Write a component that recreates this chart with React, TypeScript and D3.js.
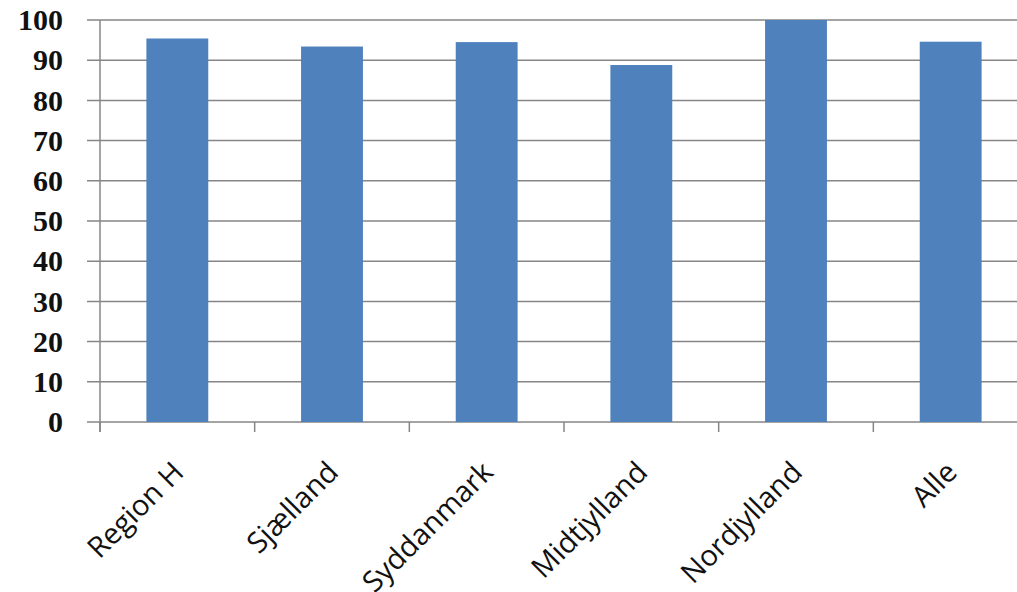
import React from "react";
import * as d3 from "d3";

// Share per region (percent)
const regions = ["Region H", "Sjælland", "Syddanmark", "Midtjylland", "Nordjylland", "Alle"];
const shares = [95.4, 93.4, 94.5, 88.8, 100, 94.6];
const yTicks = [0, 10, 20, 30, 40, 50, 60, 70, 80, 90, 100];

const W = 1017;
const H = 592;
const left = 100;
const right = 1028;
const top = 20;
const bottom = 422;

export default function App() {
  const x = d3.scaleBand<string>().domain(regions).range([left, right]).paddingInner(0.6).paddingOuter(0.3);
  const y = d3.scaleLinear().domain([0, 100]).range([bottom, top]);
  const step = x.step();
  const bounds = d3.range(regions.length + 1).map((i) => left + i * step);
  const axisColor = "#868686";

  return (
    <svg
      width={W}
      height={H}
      style={{ position: "absolute", left: 0, top: 0, background: "#fff" }}
    >
      {/* horizontal grid lines with left tick stubs */}
      {yTicks.map((t) => (
        <line key={"g" + t} x1={87} x2={right} y1={y(t)} y2={y(t)} stroke={axisColor} strokeWidth={1.5} />
      ))}
      {/* value axis */}
      <line x1={left} x2={left} y1={top} y2={bottom + 10} stroke={axisColor} strokeWidth={1.5} />
      {/* category tick marks */}
      {bounds.map((b, i) => (
        <line key={"t" + i} x1={b} x2={b} y1={bottom} y2={bottom + 10} stroke={axisColor} strokeWidth={1.5} />
      ))}
      {/* bars */}
      {regions.map((r, i) => (
        <rect
          key={r}
          x={x(r)}
          y={y(shares[i])}
          width={x.bandwidth()}
          height={y(0) - y(shares[i])}
          fill="#4F81BD"
        />
      ))}
      {/* value labels */}
      {yTicks.map((t) => (
        <text
          key={"l" + t}
          x={63}
          y={y(t)}
          dy="0.34em"
          textAnchor="end"
          fontFamily="'Liberation Serif', serif"
          fontWeight="bold"
          fontSize={30}
          fill="#111"
        >
          {t}
        </text>
      ))}
      {/* category labels, rotated */}
      {regions.map((r) => {
        const cx = (x(r) as number) + x.bandwidth() / 2;
        return (
          <text
            key={"c" + r}
            transform={`translate(${cx + 8},${474}) rotate(-45)`}
            textAnchor="end"
            fontFamily="'Open Sans', sans-serif"
            fontSize={29}
            fill="#111"
          >
            {r}
          </text>
        );
      })}
    </svg>
  );
}
